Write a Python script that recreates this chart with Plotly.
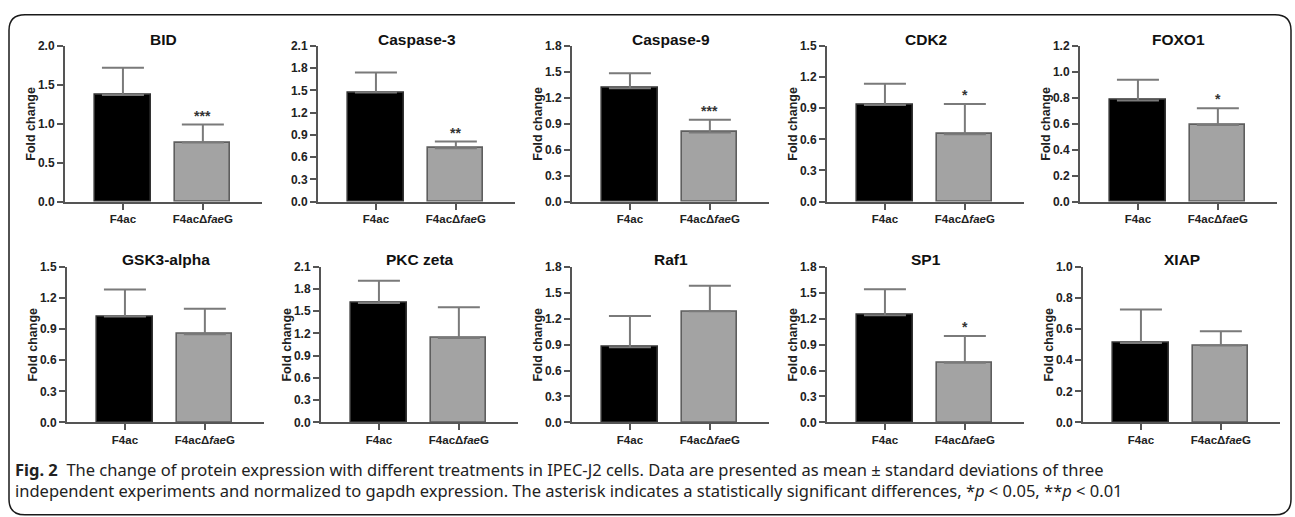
import plotly.graph_objects as go

# ---- data ----
genes = ["BID", "Caspase-3", "Caspase-9", "CDK2", "FOXO1",
         "GSK3-alpha", "PKC zeta", "Raf1", "SP1", "XIAP"]
groups = ["F4ac", "F4acΔ<i>fae</i>G"]
f4ac_mean = [1.37, 1.47, 1.31, 0.93, 0.78, 1.02, 1.61, 0.87, 1.24, 0.51]
f4ac_sd = [0.35, 0.27, 0.175, 0.205, 0.16, 0.26, 0.30, 0.36, 0.30, 0.215]
mut_mean = [0.76, 0.72, 0.80, 0.65, 0.59, 0.85, 1.14, 1.285, 0.69, 0.495]
mut_sd = [0.23, 0.09, 0.145, 0.29, 0.13, 0.245, 0.415, 0.295, 0.31, 0.09]
y_max = [2.0, 2.1, 1.8, 1.5, 1.2, 1.5, 2.1, 1.8, 1.8, 1.0]
y_dtick = [0.5, 0.3, 0.3, 0.3, 0.2, 0.3, 0.3, 0.3, 0.3, 0.2]
significance = ["***", "**", "***", "*", "*", "", "", "", "*", ""]
show_ytitle = [True, False, True, True, True, True, True, True, True, True]

caption = ("<b>Fig. 2</b>&nbsp;&nbsp;The change of protein expression with different treatments in IPEC-J2 cells. "
           "Data are presented as mean ± standard deviations of three<br>"
           "independent experiments and normalized to gapdh expression. The asterisk indicates a statistically "
           "significant differences, *<i>p</i> &lt; 0.05, **<i>p</i> &lt; 0.01")

# ---- layout geometry (pixels) ----
W, H = 1295, 517
axis_left_px = [[65, 318, 572, 827, 1080], [67, 321, 572, 827, 1083]]
plot_w_px = 197
row_top_px = [40, 267]
row_h_px = 160

FONT = "Liberation Sans, Arimo, Arial, sans-serif"
AXIS_COL = "#555555"
TICK_FONT = dict(family=FONT, size=12, color="#222222", weight="bold")

fig = go.Figure()
annotations = []
for i, gene in enumerate(genes):
    r, c = divmod(i, 5)
    n = i + 1
    xa = "x" if n == 1 else f"x{n}"
    ya = "y" if n == 1 else f"y{n}"
    x0 = axis_left_px[r][c] / W
    x1 = (axis_left_px[r][c] + plot_w_px) / W
    y1 = 1 - row_top_px[r] / H
    y0 = 1 - (row_top_px[r] + row_h_px) / H

    fig.add_trace(go.Bar(
        x=[0, 1], y=[f4ac_mean[i], mut_mean[i]],
        width=0.69,
        marker=dict(color=["#000000", "#a3a3a3"],
                    line=dict(color=["#333333", "#5e5e5e"], width=1.6)),
        error_y=dict(type="data", symmetric=False,
                     array=[f4ac_sd[i], mut_sd[i]], arrayminus=[0, 0],
                     color="#7a7a7a", thickness=2, width=21),
        xaxis=xa, yaxis=ya, showlegend=False, hoverinfo="skip"))

    fig.layout[f"xaxis{'' if n == 1 else n}"] = dict(
        domain=[x0, x1], anchor=ya, range=[-0.725, 1.74],
        tickvals=[0, 1], ticktext=groups,
        showline=True, linecolor=AXIS_COL, linewidth=2,
        ticks="outside", ticklen=6, tickwidth=2, tickcolor=AXIS_COL,
        showgrid=False, zeroline=False, tickfont=dict(TICK_FONT, size=11.5), fixedrange=True)
    fig.layout[f"yaxis{'' if n == 1 else n}"] = dict(
        domain=[y0, y1], anchor=xa, range=[0, y_max[i]],
        tick0=0, dtick=y_dtick[i], tickformat=".1f",
        showline=True, linecolor=AXIS_COL, linewidth=2,
        ticks="outside", ticklen=6, tickwidth=2, tickcolor=AXIS_COL,
        showgrid=False, zeroline=False,
        tickfont=TICK_FONT, fixedrange=True)

    # panel title
    annotations.append(dict(
        text=f"<b>{gene}</b>", xref="paper", yref="paper",
        x=(x0 + x1) / 2, y=1 - (row_top_px[r] - 7) / H,
        xanchor="center", yanchor="middle", showarrow=False,
        font=dict(family=FONT, size=15.5, color="#111111")))
    # y-axis title
    if show_ytitle[i]:
        annotations.append(dict(
            text="<b>Fold change</b>", xref="paper", yref="paper",
            x=(axis_left_px[r][c] - 34) / W, y=(y0 + y1) / 2,
            xanchor="center", yanchor="middle", textangle=-90, showarrow=False,
            font=dict(family=FONT, size=12.5, color="#222222")))
    # significance marks
    if significance[i]:
        annotations.append(dict(
            text=f"<b>{significance[i]}</b>", xref=xa, yref=ya,
            x=1, y=mut_mean[i] + mut_sd[i], yshift=9,
            xanchor="center", yanchor="middle", showarrow=False,
            font=dict(family=FONT, size=14, color="#333333")))

annotations.append(dict(
    text=caption, xref="paper", yref="paper", x=13 / W, y=1 - 461 / H,
    xanchor="left", yanchor="top", align="left", showarrow=False,
    font=dict(family="Noto Sans, sans-serif", size=16.5, color="#222222")))

# rounded frame
L, T, R, B, rad = 9, 8, 1291, 522, 16
def px(xp): return xp / W
def py(yp): return 1 - yp / H
path = (f"M {px(L+rad)},{py(T)} L {px(R-rad)},{py(T)} "
        f"Q {px(R)},{py(T)} {px(R)},{py(T+rad)} L {px(R)},{py(B-rad)} "
        f"Q {px(R)},{py(B)} {px(R-rad)},{py(B)} L {px(L+rad)},{py(B)} "
        f"Q {px(L)},{py(B)} {px(L)},{py(B-rad)} L {px(L)},{py(T+rad)} "
        f"Q {px(L)},{py(T)} {px(L+rad)},{py(T)} Z")

fig.update_layout(
    width=W, height=H, margin=dict(l=0, r=0, t=0, b=0),
    paper_bgcolor="white", plot_bgcolor="white",
    annotations=annotations, bargap=0,
    shapes=[dict(type="path", path=path, xref="paper", yref="paper",
                 line=dict(color="#1a1a1a", width=1.5), fillcolor="rgba(0,0,0,0)")])

fig.write_html("out.html", config={"displayModeBar": False},
               post_script="document.body.style.margin='0';document.body.style.overflow='hidden';")
